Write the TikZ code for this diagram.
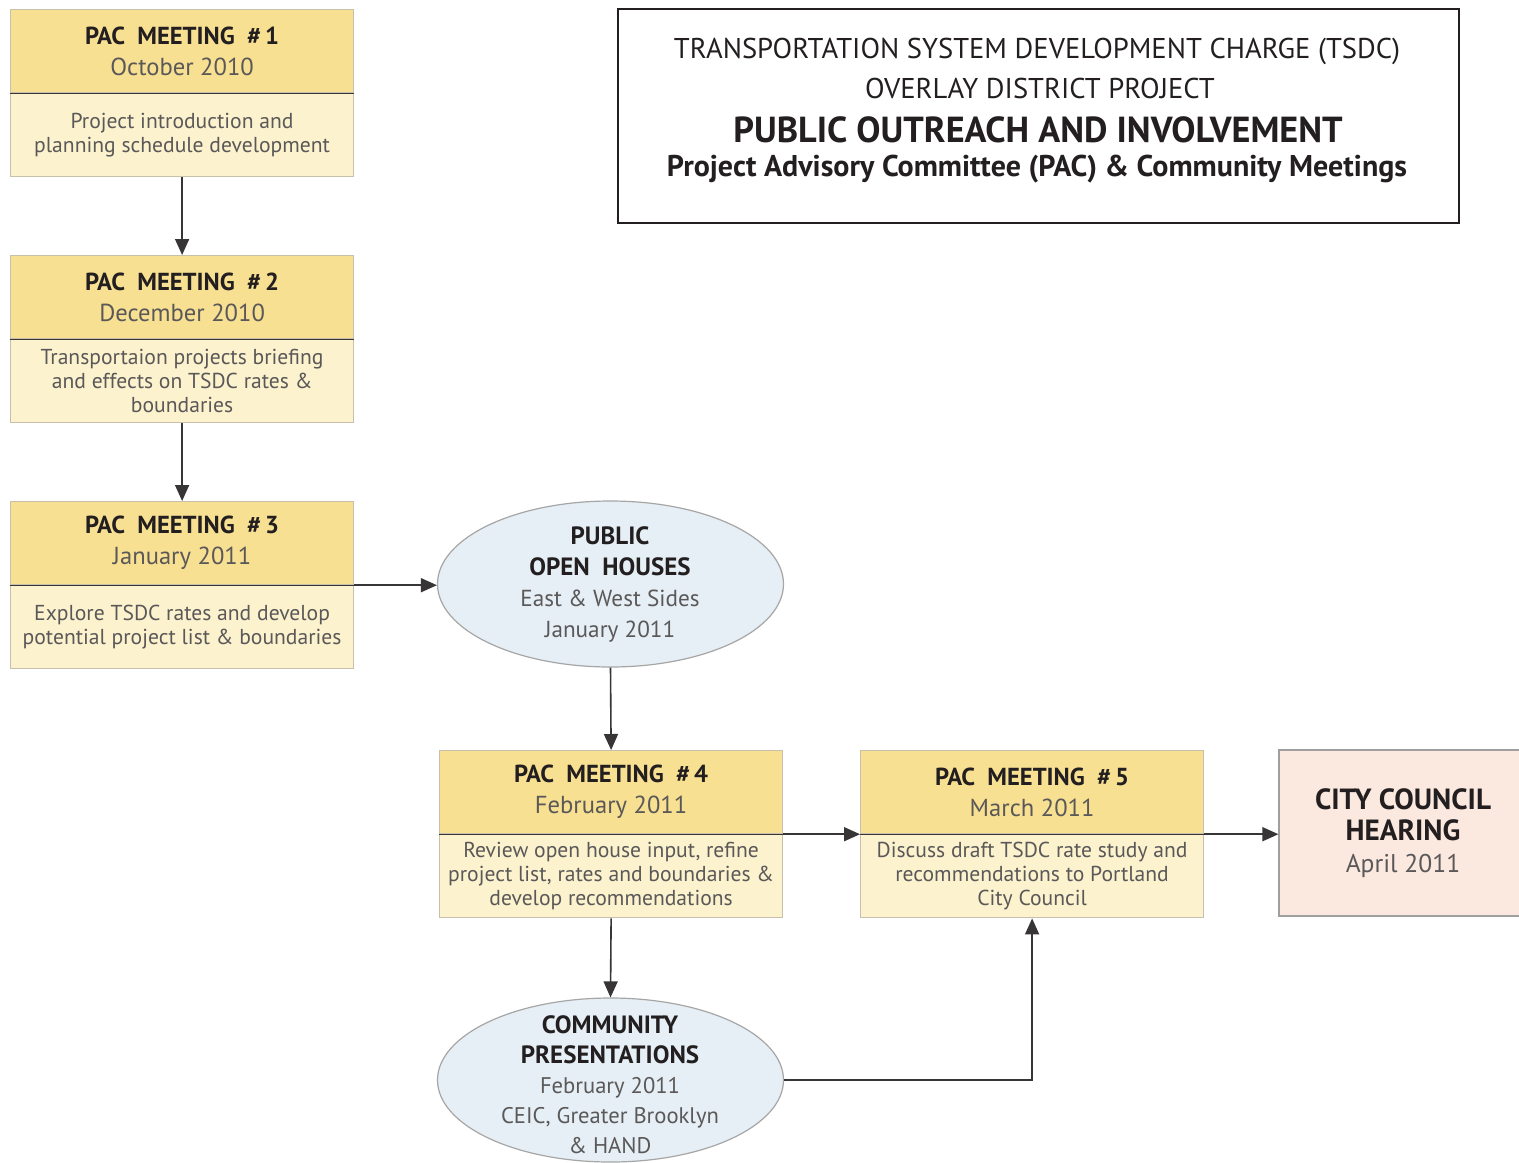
\documentclass[tikz,border=0pt]{standalone}
\usepackage{fontspec}
\setmainfont{PT Sans}
\usetikzlibrary{arrows.meta,shapes.geometric}
\definecolor{hdr}{RGB}{248,224,146}
\definecolor{bdy}{RGB}{252,242,206}
\definecolor{ovl}{RGB}{230,239,245}
\definecolor{cty}{RGB}{251,232,222}
\definecolor{edgec}{RGB}{200,192,172}
\definecolor{ink}{RGB}{35,31,32}
\definecolor{subc}{RGB}{90,88,88}
\definecolor{linec}{RGB}{55,53,53}
\tikzset{
  hdrbox/.style={draw=edgec, line width=0.6pt, fill=hdr, minimum width=171.5pt, minimum height=41.5pt, inner sep=0pt, anchor=north west, align=center, text=ink, font=\fontsize{12.3}{15.5}\selectfont},
  bdybox/.style={draw=edgec, line width=0.6pt, fill=bdy, minimum width=171.5pt, minimum height=41.5pt, inner sep=0pt, anchor=north, align=center, text=subc, font=\fontsize{10.8}{12}\selectfont},
  sepline/.style={draw=linec, line width=0.6pt},
  oval/.style={ellipse, draw=gray!70, line width=0.6pt, fill=ovl, minimum width=173pt, minimum height=83pt, inner sep=0pt},
  ovaltxt/.style={align=center, inner sep=0pt, text=subc, font=\fontsize{11.6}{15.5}\selectfont},
  conn/.style={draw=linec, line width=0.8pt, -{Triangle[length=8pt,width=7pt]}},
  ttl/.style={inner sep=0pt, text=ink},
}
\newcommand{\pachead}[1]{{\bfseries\color{ink}PAC\enspace MEETING\enspace\#\,#1}}
\newcommand{\bighd}[1]{{\bfseries\color{ink}\fontsize{12.5}{15.5}\selectfont #1}}
\begin{document}
\begin{tikzpicture}[x=0.5pt,y=-0.5pt]
\useasboundingbox (0,0) rectangle (1519,1162);
\fill[white] (0,0) rectangle (1519,1162);

% Title box
\node[draw=ink, line width=1.2pt, minimum width=420.5pt, minimum height=107pt, inner sep=0pt, anchor=north west] (title) at (617,8) {};
\node[ttl, font=\fontsize{14.3}{16}\selectfont] (t1) at (1037,51) {TRANSPORTATION SYSTEM DEVELOPMENT CHARGE (TSDC)};
\node[ttl, font=\fontsize{14.3}{16}\selectfont] (t2) at (1040,88) {OVERLAY DISTRICT PROJECT};
\node[ttl, font=\bfseries\fontsize{18.1}{20}\selectfont] (t3) at (1038,130) {PUBLIC OUTREACH AND INVOLVEMENT};
\node[ttl, font=\bfseries\fontsize{15}{17}\selectfont] (t4) at (1037,169) {Project Advisory Committee (PAC) \& Community Meetings};

% PAC 1
\node[hdrbox] (h1) at (10,9) {\pachead{1}\\{\color{subc}October 2010}};
\node[bdybox] (b1) at (h1.south) {Project introduction and\\planning schedule development};
\draw[sepline] (h1.south west) -- (h1.south east);
% PAC 2
\node[hdrbox] (h2) at (10,255) {\pachead{2}\\{\color{subc}December 2010}};
\node[bdybox] (b2) at (h2.south) {Transportaion projects briefing\\and effects on TSDC rates \&\\boundaries};
\draw[sepline] (h2.south west) -- (h2.south east);
% PAC 3
\node[hdrbox] (h3) at (10,501) {\pachead{3}\\{\color{subc}January 2011}};
\node[bdybox] (b3) at (h3.south) {Explore TSDC rates and develop\\potential project list \& boundaries};
\draw[sepline] (h3.south west) -- (h3.south east);
% Open houses
\node[oval] (oh) at (610.5,584) {};
\node[ovaltxt] (ohtxt) at (610,584) {\bighd{PUBLIC}\\\bighd{OPEN\enspace HOUSES}\\East \& West Sides\\January 2011};
% PAC 4
\node[hdrbox] (h4) at (439,750) {\pachead{4}\\{\color{subc}February 2011}};
\node[bdybox] (b4) at (h4.south) {Review open house input, refine\\project list, rates and boundaries \&\\develop recommendations};
\draw[sepline] (h4.south west) -- (h4.south east);
% PAC 5
\node[hdrbox] (h5) at (860,750) {\pachead{5}\\{\color{subc}March 2011}};
\node[bdybox] (b5) at (h5.south) {Discuss draft TSDC rate study and\\recommendations to Portland\\City Council};
\draw[sepline] (h5.south west) -- (h5.south east);
% City council
\node[draw=gray!75, line width=0.6pt, fill=cty, minimum width=124pt, minimum height=83pt, inner sep=0pt, align=center, text=subc, font=\fontsize{12.8}{15.8}\selectfont] (cc) at (1403,833) {{\bfseries\color{ink}\fontsize{14.6}{15.8}\selectfont CITY COUNCIL}\\{\bfseries\color{ink}\fontsize{14.6}{15.8}\selectfont HEARING}\\April 2011};
% Community presentations
\node[oval, minimum height=82pt] (cp) at (610.5,1080) {};
\node[ovaltxt, font=\fontsize{11.3}{15}\selectfont] (cptxt) at (610,1085) {\bighd{COMMUNITY}\\\bighd{PRESENTATIONS}\\February 2011\\CEIC, Greater Brooklyn\\\& HAND};

% connectors
\draw[conn] (b1.south) -- (h2.north);
\draw[conn] (b2.south) -- (h3.north);
\draw[conn] (h3.south east) -- (h3.south east -| oh.west);
\draw[conn] (oh.south) -- (h4.north);
\draw[conn] (h4.south east) -- (h5.south west);
\draw[conn] (h5.south east) -- (h5.south east -| cc.west);
\draw[conn] (b4.south) -- (cp.north);
\draw[conn] (cp.east) -| (b5.south);
\end{tikzpicture}
\end{document}
